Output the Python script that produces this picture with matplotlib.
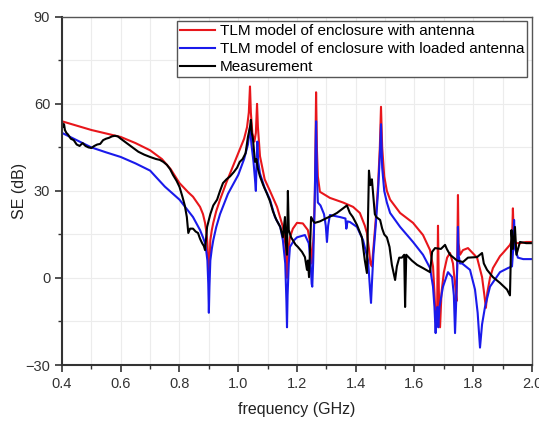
import matplotlib.pyplot as plt
from matplotlib.ticker import MultipleLocator

plt.rcParams['font.family'] = ['Liberation Sans', 'DejaVu Sans']

# TLM model of enclosure with antenna
f_red = [0.40, 0.45, 0.50, 0.55, 0.60, 0.65, 0.70, 0.74, 0.77, 0.80, 0.83, 0.846, 0.87, 0.88,
         0.887, 0.892, 0.895, 0.899, 0.901, 0.903, 0.905, 0.91, 0.915, 0.925, 0.938, 0.96,
         0.98, 1.00, 1.02, 1.03, 1.036, 1.04, 1.043, 1.048, 1.055, 1.06, 1.064, 1.067, 1.074,
         1.09, 1.108, 1.132, 1.152, 1.16, 1.164, 1.166, 1.168, 1.172, 1.176, 1.186, 1.200,
         1.22, 1.237, 1.245, 1.249, 1.252, 1.257, 1.261, 1.265, 1.268, 1.271, 1.278, 1.312,
         1.357, 1.391, 1.414, 1.431, 1.438, 1.445, 1.45, 1.455, 1.46, 1.468, 1.476, 1.482,
         1.486, 1.49, 1.497, 1.506, 1.517, 1.551, 1.595, 1.629, 1.653, 1.663, 1.668, 1.673,
         1.677, 1.68, 1.683, 1.687, 1.692, 1.70, 1.711, 1.721, 1.731, 1.738, 1.743, 1.746,
         1.748, 1.75, 1.755, 1.765, 1.782, 1.813, 1.83, 1.838, 1.843, 1.848, 1.857, 1.867,
         1.891, 1.901, 1.925, 1.932, 1.935, 1.938, 1.945, 1.96, 1.98, 2.00]
se_red = [54, 52.5, 51, 49.8, 48.6, 46.5, 44, 41, 37.5, 32.7, 29.5, 28, 24.5, 22,
          19, 15.5, 12, 4, 2, 6, 13, 16.5, 19, 23, 27, 33,
          38, 43, 48, 52, 57, 66, 57, 50, 47, 50, 60, 52, 42,
          34, 30, 24.5, 17.6, 12, 5, 0, 5, 11, 14, 17, 19,
          18.8, 16.5, 12, 5, 8, 15, 30, 64, 44, 35, 29.7, 27.6,
          26, 24.5, 22.4, 18, 15.5, 10, 5, 4, 10, 20, 32, 45,
          59, 45, 35, 30, 27, 22.4, 19, 14.8, 9.6, 4, -5, -17,
          -12, 18, -5, -17, -5, 2, 7, 8.6, 5, -2, -8, 10,
          28.6, 12, 8, 9.6, 10.3, 7, 0.3, -6, -10.3, -5, 0, 3.4,
          7.5, 8.6, 11.4, 13, 24, 14, 12, 12, 12.4, 12.4]

# TLM model of enclosure with loaded antenna
f_blue = [0.40, 0.45, 0.50, 0.55, 0.60, 0.65, 0.70, 0.75, 0.80, 0.846, 0.87, 0.88, 0.887,
          0.892, 0.895, 0.898, 0.90, 0.902, 0.905, 0.91, 0.915, 0.925, 0.938, 0.965, 1.00,
          1.02, 1.033, 1.04, 1.045, 1.052, 1.057, 1.06, 1.062, 1.065, 1.068, 1.074, 1.09,
          1.108, 1.125, 1.143, 1.152, 1.16, 1.164, 1.166, 1.168, 1.172, 1.176, 1.19, 1.200,
          1.227, 1.24, 1.246, 1.25, 1.252, 1.255, 1.26, 1.265, 1.268, 1.271, 1.28, 1.292,
          1.298, 1.302, 1.306, 1.312, 1.346, 1.365, 1.368, 1.372, 1.38, 1.404, 1.425, 1.442,
          1.448, 1.452, 1.455, 1.46, 1.468, 1.476, 1.482, 1.486, 1.49, 1.497, 1.506, 1.517,
          1.551, 1.595, 1.629, 1.653, 1.663, 1.668, 1.672, 1.675, 1.678, 1.681, 1.685, 1.697,
          1.714, 1.728, 1.734, 1.738, 1.742, 1.746, 1.748, 1.75, 1.755, 1.762, 1.789, 1.806,
          1.815, 1.823, 1.83, 1.84, 1.857, 1.891, 1.918, 1.932, 1.936, 1.939, 1.943, 1.952,
          1.97, 2.00]
se_blue = [50, 47.5, 45, 43.3, 41.7, 39.5, 37, 31.5, 27, 21, 16.5, 14, 12,
           8.5, 6, -2, -12, -3, 6, 10, 13, 17.5, 22, 29, 35.5,
           41, 46, 52, 46, 40, 34, 30, 38, 47, 40, 36, 31,
           27, 21, 17.6, 13, 5, -8, -17, -6, 5, 10.7, 13, 14,
           14.8, 12, 6, -2, -3, 5, 25, 54, 35, 26, 25, 22,
           18, 12.4, 18, 21.7, 21, 20.5, 17, 19.5, 19.3, 17.6, 13, 6,
           -3, -8.6, -2, 8, 18, 30, 42, 53, 38, 30, 26, 22.4,
           17.6, 12.4, 8, 3.4, -3, -10, -19, -12, -10, -17, -10, -3,
           2, 0.3, -6, -19, -8, 5, 17.6, 8, 5, 5, 2.8, -4,
           -12, -24, -16, -10, -3, 2, 3.4, 4, 10, 20, 10, 7,
           6.5, 6.5]

# Measurement
f_meas = [0.400, 0.403, 0.407, 0.41, 0.415, 0.42, 0.43, 0.44, 0.45, 0.46, 0.47, 0.48, 0.49,
          0.50, 0.51, 0.52, 0.53, 0.54, 0.55, 0.56, 0.57, 0.58, 0.59, 0.60, 0.62, 0.64,
          0.66, 0.68, 0.70, 0.72, 0.733, 0.745, 0.757, 0.768, 0.778, 0.79, 0.80, 0.81, 0.818,
          0.825, 0.83, 0.836, 0.846, 0.855, 0.863, 0.87, 0.877, 0.883, 0.887, 0.89, 0.894,
          0.905, 0.915, 0.928, 0.938, 0.948, 0.96, 0.972, 0.985, 0.996, 1.005, 1.015, 1.025,
          1.033, 1.04, 1.043, 1.046, 1.05, 1.057, 1.062, 1.066, 1.074, 1.085, 1.098, 1.108,
          1.118, 1.13, 1.143, 1.152, 1.159, 1.162, 1.166, 1.169, 1.172, 1.18, 1.186, 1.195,
          1.203, 1.217, 1.227, 1.234, 1.237, 1.241, 1.248, 1.256, 1.261, 1.278, 1.302, 1.32,
          1.336, 1.357, 1.37, 1.38, 1.39, 1.404, 1.421, 1.431, 1.438, 1.445, 1.45, 1.455,
          1.46, 1.465, 1.47, 1.483, 1.49, 1.497, 1.506, 1.515, 1.523, 1.534, 1.54, 1.548,
          1.557, 1.565, 1.568, 1.572, 1.591, 1.609, 1.629, 1.653, 1.66, 1.67, 1.69, 1.704,
          1.71, 1.721, 1.745, 1.765, 1.782, 1.813, 1.83, 1.836, 1.847, 1.867, 1.891, 1.915,
          1.925, 1.93, 1.935, 1.942, 1.947, 1.959, 1.98, 2.00]
se_meas = [54, 52, 53, 51, 50, 49.5, 48, 47.5, 46, 45.5, 46.5, 45.5, 45,
           44.8, 45.5, 46, 46.2, 47.5, 48, 48.3, 48.8, 49, 48.8, 48, 46.5, 45,
           43.5, 42.5, 41.7, 41, 40.7, 40, 39, 37.5, 35.5, 33.5, 31.4, 28, 25,
           21, 15.5, 17, 17, 16, 15.5, 13.5, 12, 11, 9.6, 13, 17.6,
           22, 25, 27, 30, 32.7, 34, 35, 36.5, 38, 40, 41, 43,
           48.6, 52, 54.5, 50, 48, 40, 41, 38, 35, 32, 29, 26.5,
           23, 20, 17.6, 14, 21, 12, 8, 30, 16.5, 14, 13, 11.5,
           10.7, 9, 7.2, 2.8, 6, 0.3, 21, 19.5, 19, 19.5, 20.7, 21.5,
           22.4, 24, 25, 22.4, 21, 18.3, 14, 6, 1.7, 37, 32, 34,
           28, 22, 21, 20, 17, 15, 14, 10.7, 4.5, -0.7, 4, 7,
           7, 8, -10, 8, 6, 4.5, 3.4, 2, 9, 10.3, 10, 11.4,
           10, 8, 6, 5.5, 7, 7.2, 8.6, 5, 2.8, 0.3, -1.7, -4,
           -6, 16.5, 10, 17.6, 8, 12.4, 12, 12]


def main():
    fig = plt.figure(figsize=(5.39, 4.21), dpi=100)
    ax = fig.add_axes([0.115, 0.133, 0.872, 0.827])

    ax.plot(f_red, se_red, color='#e8161b', lw=1.5, label='TLM model of enclosure with antenna')
    ax.plot(f_blue, se_blue, color='#1a1aeb', lw=1.5,
            label='TLM model of enclosure with loaded antenna')
    ax.plot(f_meas, se_meas, color='black', lw=1.5, label='Measurement')

    ax.set_xlim(0.4, 2.0)
    ax.set_ylim(-30, 90)
    ax.xaxis.set_major_locator(MultipleLocator(0.2))
    ax.xaxis.set_minor_locator(MultipleLocator(0.1))
    ax.yaxis.set_major_locator(MultipleLocator(30))
    ax.yaxis.set_minor_locator(MultipleLocator(15))
    ax.set_xticklabels([f'{v:.1f}' for v in ax.get_xticks()])
    ax.grid(True, which='both', color='#ececec', lw=0.8)
    ax.set_axisbelow(True)

    ax.tick_params(which='both', direction='out', labelsize=10.5, colors='#333333')
    ax.tick_params(which='major', length=5, width=1.2)
    ax.tick_params(which='minor', length=3, width=1.0)
    for side in ['left', 'bottom']:
        ax.spines[side].set_linewidth(1.5)
        ax.spines[side].set_color('#333333')
    for side in ['top', 'right']:
        ax.spines[side].set_linewidth(1.0)
        ax.spines[side].set_color('#555555')

    ax.set_xlabel('frequency (GHz)', fontsize=11.5, color='#222222', labelpad=8)
    ax.set_ylabel('SE (dB)', fontsize=11.5, color='#222222', labelpad=-1)

    leg = ax.legend(loc='upper right', fontsize=11, fancybox=False, framealpha=1,
                    edgecolor='#555555', borderpad=0.2, labelspacing=0.25,
                    handlelength=2.3, handletextpad=0.3, borderaxespad=0.3)
    leg.get_frame().set_linewidth(1.0)

    fig.savefig('out.png', dpi=100)


if __name__ == '__main__':
    main()
